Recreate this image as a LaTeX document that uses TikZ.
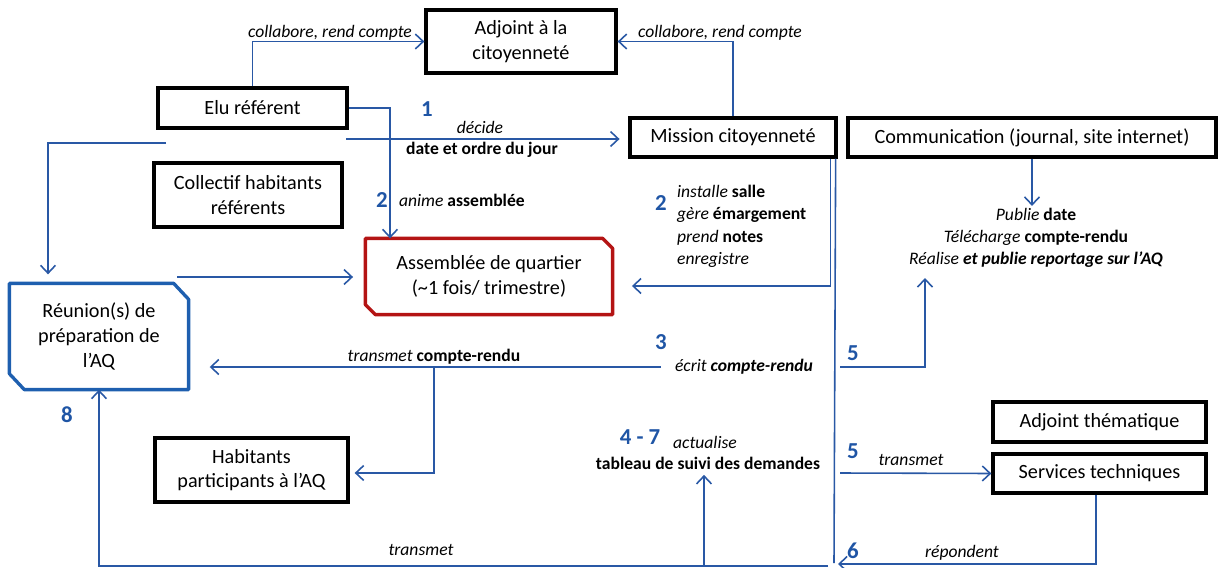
\documentclass[tikz,border=0pt]{standalone}
\usepackage{fontspec}
\setmainfont{Carlito}
\usetikzlibrary{positioning}
\usetikzlibrary{arrows.meta}
\definecolor{lineblue}{RGB}{41,88,165}
\definecolor{numblue}{RGB}{31,85,165}
\definecolor{boxred}{RGB}{180,20,20}
\definecolor{boxblue}{RGB}{30,95,175}

\begin{document}
\begin{tikzpicture}[
			x=0.02cm, y=-0.02cm,
			box/.style={draw, line width=1.9pt, align=center, inner sep=1pt, font=\fontsize{11.5}{14}\selectfont},
			snipbox/.style={box, draw=none},
			snipline/.style={line width=1.9pt, line join=round},
			wire/.style={draw=lineblue, line width=0.9pt},
			flow/.style={wire, -{Straight Barb[length=4.5pt,width=8.5pt]}},
			lbl/.style={font=\fontsize{10}{12.7}\selectfont, inner sep=1pt},
			num/.style={text=numblue, font=\bfseries\fontsize{13}{15}\selectfont, inner sep=0pt},
			]
			\useasboundingbox (0,0) rectangle (1221,568);
			% boxes
			\node[box, minimum width=3.8cm, minimum height=1.26cm] (adjcit) at (521,41.5) {Adjoint à la\\citoyenneté};
			\node[box, minimum width=3.78cm, minimum height=0.8cm] (elu) at (252.5,108) {Elu référent};
			\node[box, minimum width=4.12cm, minimum height=0.78cm] (mission) at (733,137.5) {Mission citoyenneté};
			\node[box, minimum width=7.36cm, minimum height=0.78cm] (comm) at (1032,137.5) {Communication (journal, site internet)};
			\node[box, minimum width=3.76cm, minimum height=1.28cm] (collectif) at (248,195) {Collectif habitants\\référents};
			\node[snipbox, minimum width=4.88cm, minimum height=1.46cm] (assemblee) at (489,276.5) {Assemblée de quartier\\(\textasciitilde1 fois/ trimestre)};
			\node[snipbox, minimum width=3.52cm, minimum height=2.06cm] (reunion) at (99,336.5) {Réunion(s) de\\préparation de\\l’AQ};
			\node[box, minimum width=3.86cm, minimum height=1.28cm] (habitants) at (251.5,470) {Habitants\\participants à l’AQ};
			\node[box, minimum width=4.26cm, minimum height=0.8cm] (adjthem) at (1099.5,422) {Adjoint thématique};
			\node[box, minimum width=4.26cm, minimum height=0.78cm] (services) at (1099.5,473.5) {Services techniques};

			% snipped corners
			\draw[snipline, boxred] (assemblee.north west) -- ([xshift=-0.2cm]assemblee.north east)
				-- ([yshift=-0.2cm]assemblee.north east) -- (assemblee.south east)
				-- ([xshift=0.2cm]assemblee.south west) -- ([yshift=0.2cm]assemblee.south west) -- cycle;
			\draw[snipline, boxblue] (reunion.north west) -- ([xshift=-0.3cm]reunion.north east)
				-- ([yshift=-0.32cm]reunion.north east) -- (reunion.south east)
				-- ([xshift=0.3cm]reunion.south west) -- ([yshift=0.32cm]reunion.south west) -- cycle;

			% labels
			\node[lbl] (collab1) at (330,33) {\textit{collabore, rend compte}};
			\node[lbl] (collab2) at (720,33) {\textit{collabore, rend compte}};
			\node[num] (n1) at (427,109) {1};
			\node[lbl] (decide) at (480,127) {\textit{décide}};
			\node[lbl] (ordre) at (482,150) {\textbf{date et ordre du jour}};
			\node[num] (n2a) at (382,200) {2};
			\node[lbl, anchor=west] (anime) at (397,200) {\textit{anime} \textbf{assemblée}};
			\node[num] (n2b) at (661,203) {2};
			\node[lbl, anchor=north west, align=left] (taches) at (675,183) {\textit{installe} \textbf{salle}\\\textit{gère} \textbf{émargement}\\\textit{prend} \textbf{notes}\\\textit{enregistre}};
			\node[num] (n3) at (661,342) {3};
			\node[lbl] (ecrit) at (744,367) {\textit{écrit \textbf{compte-rendu}}};
			\node[lbl] (transcr) at (434,357) {\textit{transmet} \textbf{compte-rendu}};
			\node[num] (n5a) at (853,353) {5};
			\node[lbl, align=center] (publie) at (1036,238) {\textit{Publie} \textbf{date}\\\textit{Télécharge} \textbf{compte-rendu}\\\textit{Réalise} \textbf{\textit{et publie reportage sur l’AQ}}};
			\node[num] (n47) at (640,437) {4 - 7};
			\node[lbl] (actualise) at (705,442) {\textit{actualise}};
			\node[lbl] (suivi) at (708,463) {\textbf{tableau de suivi des demandes}};
			\node[num] (n5b) at (853,451) {5};
			\node[lbl] (transtech) at (911,460) {\textit{transmet}};
			\node[num] (n6) at (853,551) {6};
			\node[lbl] (repondent) at (962,553) {\textit{répondent}};
			\node[num] (n8) at (67,415) {8};
			\node[lbl] (transbas) at (421,550) {\textit{transmet}};

			% free ends
			\coordinate (decidestart) at (346,139);
			\coordinate (reunionfeed) at (166,143);
			\coordinate (prepstart) at (177,277);
			\coordinate (crbranch) at (434,367);
			\coordinate (pubstart) at (840,367);
			\coordinate (pubend) at (925,278);
			\coordinate (techstart) at (840,473);
			\coordinate (mainend) at (834,563);
			\coordinate (repend) at (838,564);
			\coordinate (bottomstart) at (828,566);
			\coordinate (suivibranch) at (704,566);

			% connectors
			\draw[flow] (elu.north) |- (adjcit.west);
			\draw[flow] (mission.north) |- (adjcit.east);
			\draw[flow] (elu.east) -| ([xshift=-1.98cm]assemblee.north);
			\draw[flow, shorten >=5pt] (decidestart) -- (mission.west |- decidestart);
			\draw[flow] (reunionfeed) -| ([xshift=-1.02cm,yshift=0.18cm]reunion.north);
			\draw[flow, shorten >=7pt] (prepstart) -- (assemblee.west |- prepstart);
			\draw[flow, shorten >=11pt] ([xshift=-0.14cm]mission.south east) |- ([yshift=-0.19cm]assemblee.east);
			\draw[wire] ([xshift=-0.04cm]mission.south east) -- (mainend);
			\draw[flow, shorten >=12pt] ([xshift=-0.24cm]ecrit.west) -- (reunion.east |- ecrit.west);
			\draw[flow] (crbranch) |- ([xshift=0.1cm,yshift=-0.06cm]habitants.east);
			\draw[flow] (pubstart) -| (pubend);
			\draw[flow] (comm.south) -- (publie.north -| comm.south);
			\draw[flow] (techstart) -- (services.west);
			\draw[flow] ([xshift=-0.07cm]services.south) |- (repend);
			\draw[flow] (bottomstart) -| (reunion.south);
			\draw[flow, shorten >=2pt] (suivibranch) -- (suivibranch |- suivi.south);
		\end{tikzpicture}
\end{document}
